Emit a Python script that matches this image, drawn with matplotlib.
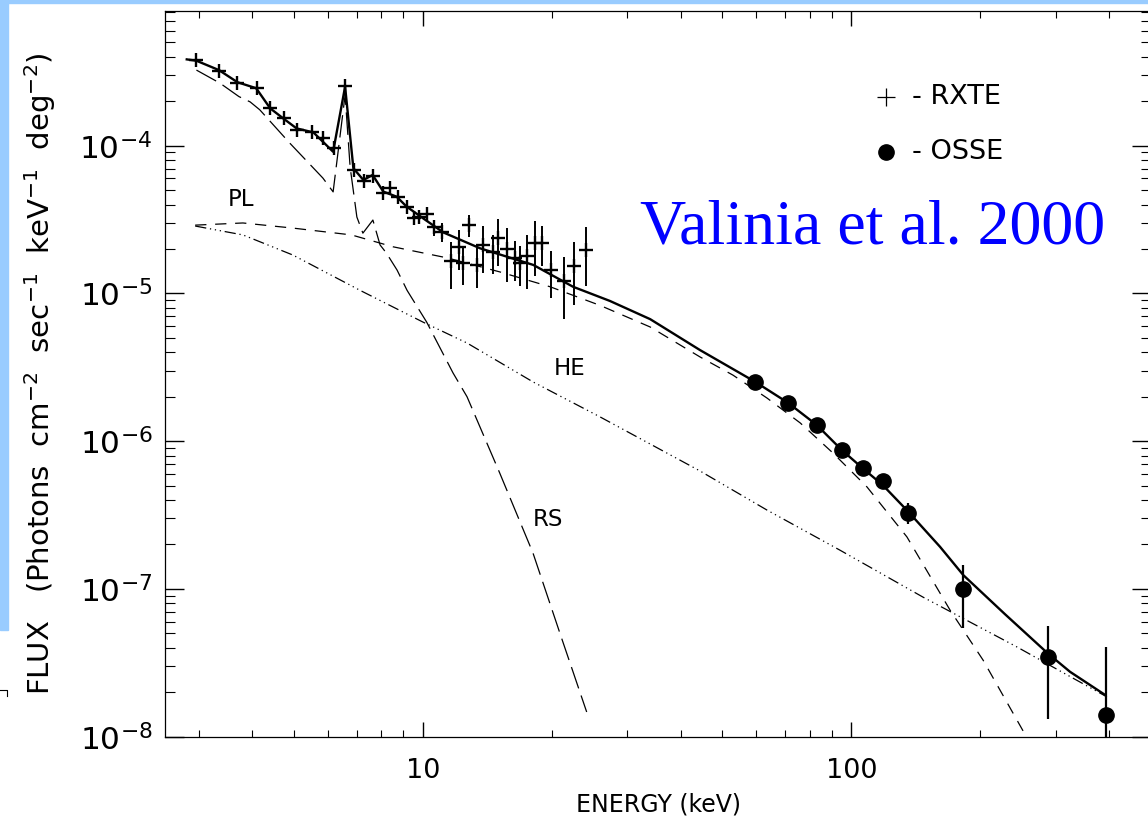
import matplotlib
matplotlib.use("Agg")
import matplotlib.pyplot as plt
from matplotlib.patches import Rectangle
from matplotlib.ticker import FuncFormatter, LogLocator
import numpy as np

plt.rcParams['font.family'] = ['DejaVu Sans']
plt.rcParams['mathtext.fontset'] = 'dejavusans'

# --- RXTE points (energy keV, flux, fractional error) ---
rxte_e = [2.96, 3.35, 3.69, 4.09, 4.40, 4.74, 5.09, 5.50, 5.85, 6.20,
          6.56, 6.90, 7.30, 7.63, 8.05, 8.38, 8.76, 9.16, 9.53, 9.80,
          10.2, 10.6, 11.1, 11.6, 12.15, 12.4, 12.8, 13.35, 13.8, 14.55,
          15.0, 15.7, 16.4, 16.85, 17.5, 18.25, 19.0, 19.9, 21.3, 22.5, 24.0]
rxte_flux = [3.80e-4, 3.20e-4, 2.64e-4, 2.47e-4, 1.79e-4, 1.53e-4, 1.28e-4, 1.24e-4, 1.13e-4, 9.6e-5,
             2.52e-4, 6.8e-5, 5.77e-5, 6.21e-5, 4.81e-5, 5.15e-5, 4.52e-5, 3.87e-5, 3.23e-5, 3.31e-5,
             3.45e-5, 2.8e-5, 2.62e-5, 1.66e-5, 2.07e-5, 1.62e-5, 2.9e-5, 1.56e-5, 2.13e-5, 1.92e-5,
             2.36e-5, 1.99e-5, 1.73e-5, 1.6e-5, 1.79e-5, 2.2e-5, 2.2e-5, 1.44e-5, 1.22e-5, 1.53e-5, 1.97e-5]
rxte_err = [0.03, 0.03, 0.03, 0.03, 0.03, 0.03, 0.03, 0.03, 0.03, 0.03,
            0.03, 0.04, 0.04, 0.05, 0.05, 0.06, 0.07, 0.08, 0.1, 0.1,
            0.11, 0.13, 0.15, 0.35, 0.3, 0.3, 0.17, 0.3, 0.35, 0.3,
            0.35, 0.4, 0.3, 0.3, 0.4, 0.4, 0.3, 0.35, 0.45, 0.45, 0.43]

# --- OSSE points ---
osse_e = [59.5, 71.2, 82.9, 94.9, 106.2, 118.2, 135.7, 182.4, 287.0, 392.6]
osse_flux = [2.53e-6, 1.80e-6, 1.29e-6, 8.72e-7, 6.56e-7, 5.41e-7, 3.28e-7, 1.0e-7, 3.45e-8, 1.40e-8]
osse_err = [0.03, 0.03, 0.03, 0.04, 0.05, 0.05, 0.16, 0.46, 0.62, 1.9]

# --- model components ---
tot_e = [2.81, 2.96, 3.34, 3.69, 4.08, 4.40, 4.72, 5.07, 5.55, 6.17, 6.58, 6.88, 7.26, 7.63,
         8.08, 8.68, 9.16, 10.0, 11.15, 13.6, 18.09, 22.4, 27.3, 33.9, 44.3, 59.5, 71.1, 82.9,
         94.9, 106.2, 118.2, 135.6, 160.9, 182.4, 228.0, 287.0, 323.6, 390.5]
tot_f = [3.84e-4, 3.76e-4, 3.25e-4, 2.69e-4, 2.45e-4, 1.79e-4, 1.53e-4, 1.31e-4, 1.23e-4, 9.1e-5,
         2.51e-4, 7.03e-5, 5.86e-5, 6.34e-5, 4.89e-5, 4.52e-5, 3.87e-5, 3.23e-5, 2.59e-5, 2.02e-5,
         1.56e-5, 1.11e-5, 8.9e-6, 6.7e-6, 4.14e-6, 2.53e-6, 1.82e-6, 1.29e-6, 8.72e-7, 6.56e-7,
         5.06e-7, 3.34e-7, 1.93e-7, 1.24e-7, 6.76e-8, 3.67e-8, 2.75e-8, 1.92e-8]

pl_e = [2.94, 3.80, 4.97, 6.81, 8.51, 11.4, 15.1, 19.8, 25.9, 33.9, 44.3, 52.9, 63.5,
        75.9, 90.6, 108.7, 134.7, 169.8, 202.8, 255.4]
pl_f = [2.90e-5, 3.0e-5, 2.77e-5, 2.49e-5, 2.07e-5, 1.74e-5, 1.40e-5, 1.11e-5, 8.3e-6, 5.93e-6,
        3.72e-6, 2.8e-6, 1.96e-6, 1.33e-6, 8.3e-7, 4.9e-7, 2.25e-7, 7.2e-8, 3.3e-8, 1.01e-8]

he_e = [2.94, 3.80, 4.97, 7.13, 10.0, 12.67, 18.06, 25.9, 44.3, 63.5, 94.0, 146.9, 243.3, 318.5, 394.5]
he_f = [2.86e-5, 2.49e-5, 1.82e-5, 1.05e-5, 6.4e-6, 4.62e-6, 2.52e-6, 1.46e-6, 6.29e-7, 3.42e-7,
        1.83e-7, 8.8e-8, 4.05e-8, 2.62e-8, 1.86e-8]

rs_e = [2.96, 3.36, 3.72, 3.95, 4.16, 4.89, 5.84, 6.17, 6.58, 6.76, 7.01, 7.24, 7.64, 7.94,
        8.11, 8.33, 8.70, 9.18, 10.2, 11.75, 12.67, 15.1, 18.06, 20.88, 24.1]
rs_f = [3.25e-4, 2.65e-4, 2.15e-4, 1.98e-4, 1.75e-4, 1.04e-4, 6.04e-5, 4.87e-5, 2.2e-4, 7.18e-5,
        3.29e-5, 2.56e-5, 3.14e-5, 2.13e-5, 1.97e-5, 1.76e-5, 1.44e-5, 1.05e-5, 6.4e-6, 2.9e-6,
        2.0e-6, 6.1e-7, 1.75e-7, 5.0e-8, 1.47e-8]


def err_limits(flux, frac):
    flux = np.array(flux)
    frac = np.array(frac)
    lo = flux * frac
    lo = np.where(flux - lo <= 0, flux - 1e-9, lo)
    hi = flux * frac
    return [lo, hi]


W, H = 1148, 827
fig = plt.figure(figsize=(W / 100, H / 100), dpi=100)

# slide remnants
fig.patches.append(Rectangle((0, 1 - 630 / H), 8 / W, 630 / H, transform=fig.transFigure,
                             color='#99ccff', zorder=0))
fig.patches.append(Rectangle((0, 1 - 3 / H), 1, 3 / H, transform=fig.transFigure,
                             color='#99ccff', zorder=0))
fig.add_artist(plt.Line2D([0, 7 / W, 7 / W], [1 - 690 / H, 1 - 690 / H, 1 - 696 / H],
                          transform=fig.transFigure, color='k', lw=0.8))

ax = fig.add_axes([165 / W, 90.3 / H, 986 / W, 726 / H])
ax.set_xscale('log')
ax.set_yscale('log')
ax.set_xlim(2.5, 500)
ax.set_ylim(1e-8, 8.2e-4)

# model curves
ax.plot(tot_e, tot_f, color='k', lw=1.7)
ax.plot(pl_e, pl_f, color='k', lw=0.9, dashes=(9, 7))
ax.plot(rs_e, rs_f, color='k', lw=0.9, dashes=(18, 6))
ax.plot(he_e, he_f, color='k', lw=0.9, dashes=(9, 3, 1, 3, 1, 3, 1, 3))

# data
ax.errorbar(rxte_e, rxte_flux, yerr=err_limits(rxte_flux, rxte_err), fmt='+', ms=10, mew=1.7,
            color='k', elinewidth=1.4, capsize=0)
ax.errorbar(osse_e, osse_flux, yerr=err_limits(osse_flux, osse_err), fmt='o', ms=11,
            color='k', elinewidth=1.6, capsize=0)

# labels inside plot
ax.text(3.76, 4.3e-5, 'PL', fontsize=16.5, ha='center', va='center')
ax.text(22.0, 3.1e-6, 'HE', fontsize=16.5, ha='center', va='center')
ax.text(19.6, 2.95e-7, 'RS', fontsize=16.5, ha='center', va='center')

# legend by hand
ax.plot([0.731], [0.881], '+', transform=ax.transAxes, color='k', ms=13, mew=0.9, clip_on=False)
ax.plot([0.731], [0.805], 'o', transform=ax.transAxes, color='k', ms=11, clip_on=False)
ax.text(0.758, 0.881, '- RXTE', transform=ax.transAxes, fontsize=19.5, va='center')
ax.text(0.758, 0.805, '- OSSE', transform=ax.transAxes, fontsize=19.5, va='center')

fig.text(640 / W, 1 - 243 / H, 'Valinia et al. 2000', color='#0000ff', fontsize=46,
         family='Liberation Serif', ha='left', va='baseline')

# axes styling
ax.xaxis.set_major_formatter(FuncFormatter(lambda v, p: '%g' % v))
ax.yaxis.set_major_locator(LogLocator(base=10, numticks=10))
ax.yaxis.set_major_formatter(FuncFormatter(
    lambda v, p: r'$\mathdefault{10^{%d}}$' % int(round(np.log10(v)))))
ax.tick_params(which='both', direction='in', top=True, right=True)
ax.tick_params(axis='x', which='major', length=11, width=1, labelsize=19.5, pad=15)
ax.tick_params(axis='x', which='minor', length=5, width=0.8)
ax.tick_params(axis='y', which='major', length=14, width=1, labelsize=22.5, pad=9)
ax.tick_params(axis='y', which='minor', length=7, width=0.8)
for s in ax.spines.values():
    s.set_linewidth(0.9)

ax.set_xlabel('ENERGY (keV)', fontsize=17, va='center')
ax.xaxis.set_label_coords(0.5, -0.094)
ax.set_ylabel(r'FLUX   (Photons  cm$^{-2}$  sec$^{-1}$  keV$^{-1}$  deg$^{-2}$)', fontsize=21,
              va='center')
ax.yaxis.set_label_coords(-0.127, 0.5)

fig.savefig('out.png', dpi=100)
